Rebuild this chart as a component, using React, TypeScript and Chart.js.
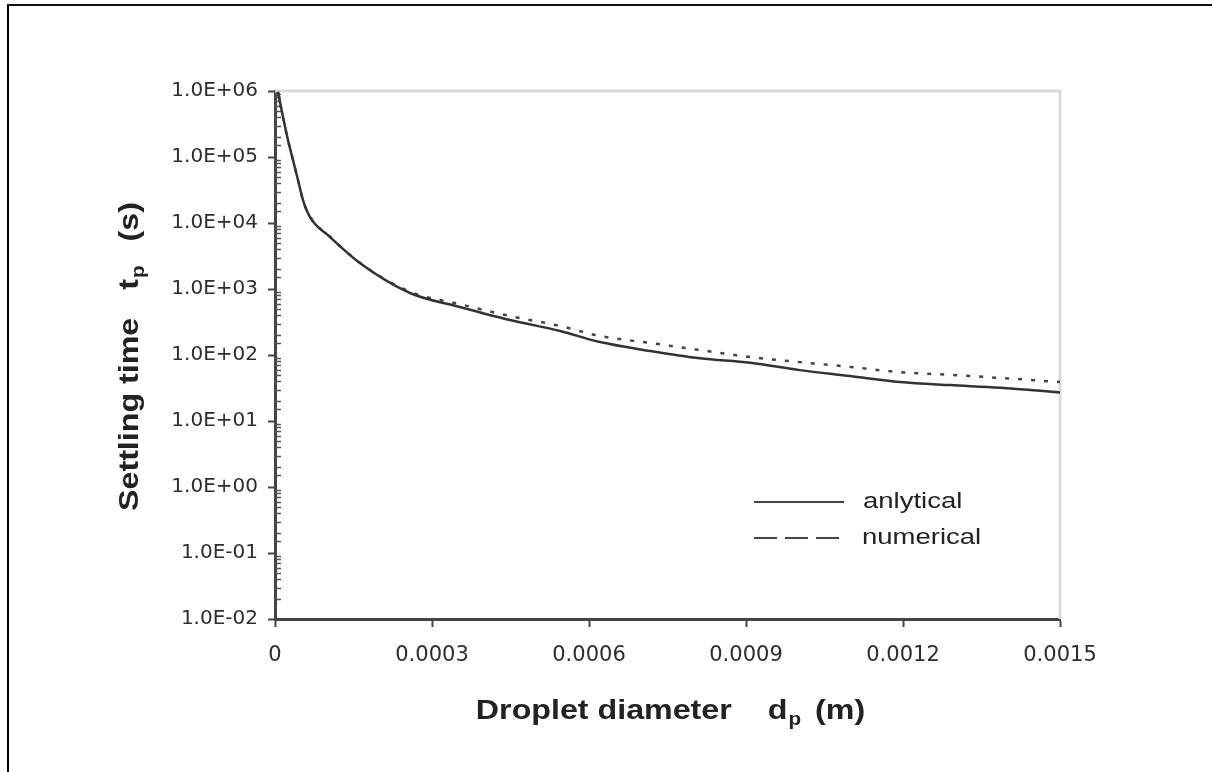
import React, { useEffect, useRef } from 'react';
import { Chart, registerables } from 'chart.js';

Chart.register(...registerables);

// ---------- data ----------
const seriesNames = ['anlytical', 'numerical'];

const analyticalX = [
  5.7e-6, 1.53e-5, 2.48e-5, 3.44e-5, 4.39e-5, 5.35e-5, 6.69e-5, 1.05e-4, 1.62e-4,
  2.58e-4, 3.53e-4, 4.49e-4, 5.45e-4, 6.21e-4, 7.17e-4, 8.12e-4, 9.08e-4, 1.003e-3,
  1.099e-3, 1.194e-3, 1.29e-3, 1.385e-3, 1.5e-3,
];
const analyticalY = [
  9.7e5, 4.04e5, 1.81e5, 9.0e4, 4.49e4, 2.23e4, 1.23e4, 6140, 2480,
  870, 534, 339, 231, 157, 115, 89, 76, 59,
  48, 39, 35, 32, 27,
];

const numericalX = [
  5.7e-6, 1.53e-5, 2.48e-5, 3.44e-5, 4.39e-5, 5.35e-5, 6.69e-5, 1.05e-4, 1.62e-4,
  2.58e-4, 3.53e-4, 4.49e-4, 5.45e-4, 6.21e-4, 7.17e-4, 8.12e-4, 9.08e-4, 1.003e-3,
  1.099e-3, 1.194e-3, 1.29e-3, 1.385e-3, 1.5e-3,
];
const numericalY = [
  9.7e5, 4.0e5, 1.8e5, 9.0e4, 4.5e4, 2.2e4, 1.25e4, 6200, 2500,
  910, 590, 390, 275, 194, 152, 119, 93, 78,
  66, 55, 50, 45, 39,
];

const xTickValues = [0, 0.0003, 0.0006, 0.0009, 0.0012, 0.0015];
const xTickLabels = ['0', '0.0003', '0.0006', '0.0009', '0.0012', '0.0015'];
const yMin = 0.01;
const yMax = 1e6;

const xTitleParts = ['Droplet diameter', 'd', 'p', '(m)'];
const yTitleParts = ['Settling time', 't', 'p', '(s)'];

// ---------- helpers ----------
const TITLE_FONT = 'bold 28px "Liberation Sans", Arial, sans-serif';
const SUB_FONT = 'bold 18px "Liberation Sans", Arial, sans-serif';
const TITLE_SX = 1.15;

function isPow10(v: number) {
  if (v <= 0) return false;
  const e = Math.round(Math.log10(v));
  return Math.abs(v - Math.pow(10, e)) / Math.pow(10, e) < 1e-6;
}

function drawScaledText(ctx: CanvasRenderingContext2D, text: string, font: string, x: number, y: number, sx: number) {
  ctx.save();
  ctx.font = font;
  ctx.translate(x, y);
  ctx.scale(sx, 1);
  ctx.fillText(text, 0, 0);
  ctx.restore();
}

function drawTitle(ctx: CanvasRenderingContext2D, parts: string[], gapA: number, gapB: number) {
  ctx.font = TITLE_FONT;
  const w0 = ctx.measureText(parts[0]).width * TITLE_SX;
  const w1 = ctx.measureText(parts[1]).width * TITLE_SX;
  const w3 = ctx.measureText(parts[3]).width * TITLE_SX;
  ctx.font = SUB_FONT;
  const w2 = ctx.measureText(parts[2]).width * TITLE_SX;
  const total = w0 + gapA + w1 + w2 + gapB + w3;
  let x = -total / 2;
  ctx.textAlign = 'left';
  ctx.textBaseline = 'alphabetic';
  drawScaledText(ctx, parts[0], TITLE_FONT, x, 0, TITLE_SX);
  x += w0 + gapA;
  drawScaledText(ctx, parts[1], TITLE_FONT, x, 0, TITLE_SX);
  x += w1 + 1;
  drawScaledText(ctx, parts[2], SUB_FONT, x, 6, TITLE_SX);
  x += w2 + gapB;
  drawScaledText(ctx, parts[3], TITLE_FONT, x, 0, TITLE_SX);
}

const framePlugin = {
  id: 'frameDecor',
  beforeDatasetsDraw(chart: any) {
    const { ctx, chartArea } = chart;
    const { left, right, top, bottom } = chartArea;
    ctx.save();
    ctx.strokeStyle = '#d9d9d9';
    ctx.lineWidth = 3;
    ctx.beginPath();
    ctx.moveTo(left, top);
    ctx.lineTo(right, top);
    ctx.lineTo(right, bottom);
    ctx.stroke();
    // minor ticks of log axis, drawn inside
    const yScale = chart.scales.y;
    ctx.strokeStyle = '#555';
    ctx.lineWidth = 1.5;
    ctx.beginPath();
    yScale.ticks.forEach((t: any) => {
      if (isPow10(t.value)) return;
      const py = Math.round(yScale.getPixelForValue(t.value)) + 0.5;
      ctx.moveTo(left, py);
      ctx.lineTo(left + 6, py);
    });
    ctx.stroke();
    ctx.restore();
  },
  afterDraw(chart: any) {
    const { ctx } = chart;
    ctx.save();
    ctx.fillStyle = '#222';
    // x title
    ctx.save();
    ctx.translate(670, 719);
    drawTitle(ctx, xTitleParts, 36, 14);
    ctx.restore();
    // y title
    ctx.save();
    ctx.translate(138, 357);
    ctx.rotate(-Math.PI / 2);
    drawTitle(ctx, yTitleParts, 28, 24);
    ctx.restore();

    // legend
    const ds = chart.data.datasets;
    ctx.strokeStyle = '#444';
    ctx.lineWidth = 2;
    ctx.beginPath();
    ctx.moveTo(754, 502);
    ctx.lineTo(844, 502);
    ctx.stroke();
    ctx.setLineDash([23, 8]);
    ctx.beginPath();
    ctx.moveTo(754, 538);
    ctx.lineTo(844, 538);
    ctx.stroke();
    ctx.setLineDash([]);
    ctx.fillStyle = '#222';
    ctx.textAlign = 'left';
    ctx.textBaseline = 'alphabetic';
    const LF = '22px "Liberation Sans", Arial, sans-serif';
    drawScaledText(ctx, ds[0].label, LF, 863, 508, 1.25);
    drawScaledText(ctx, ds[1].label, LF, 862, 544, 1.25);
    ctx.restore();
  },
};

export default function App() {
  const ref = useRef<HTMLCanvasElement | null>(null);

  useEffect(() => {
    if (!ref.current) return;
    const chart = new Chart(ref.current, {
      type: 'line',
      data: {
        datasets: [
          {
            label: seriesNames[0],
            data: analyticalX.map((x, i) => ({ x, y: analyticalY[i] })),
            borderColor: '#333',
            borderWidth: 2.5,
            pointRadius: 0,
            cubicInterpolationMode: 'monotone',
            fill: false,
            order: 0,
          },
          {
            label: seriesNames[1],
            data: numericalX.map((x, i) => ({ x, y: numericalY[i] })),
            borderColor: '#444',
            borderWidth: 2.5,
            borderDash: [4, 9],
            pointRadius: 0,
            cubicInterpolationMode: 'monotone',
            fill: false,
            order: 1,
          },
        ],
      },
      options: {
        responsive: false,
        animation: false,
        layout: { padding: { left: 0, top: 91, right: 152, bottom: 0 } },
        plugins: {
          legend: { display: false },
          tooltip: { enabled: false },
          title: { display: false },
        },
        scales: {
          x: {
            type: 'linear',
            min: 0,
            max: 0.0015,
            afterFit: (s: any) => { s.height = 153; },
            afterBuildTicks: (s: any) => {
              s.ticks = xTickValues.map((v) => ({ value: v }));
            },
            ticks: {
              autoSkip: false,
              maxRotation: 0,
              padding: 16,
              color: '#2e2e2e',
              font: { family: '"DejaVu Sans", sans-serif', size: 21 },
              callback: (v: any) => {
                const i = xTickValues.findIndex((t) => Math.abs(t - v) < 1e-9);
                return i >= 0 ? xTickLabels[i] : '';
              },
            },
            grid: {
              drawOnChartArea: false,
              drawTicks: true,
              tickLength: 8,
              tickWidth: 2,
              tickColor: '#444',
            },
            border: { display: true, color: '#444', width: 3 },
          },
          y: {
            type: 'logarithmic',
            min: yMin,
            max: yMax,
            afterFit: (s: any) => { s.width = 275; },
            ticks: {
              autoSkip: false,
              padding: 10,
              color: '#2e2e2e',
              font: { family: '"DejaVu Sans", sans-serif', size: 20 },
              callback: (v: any) => {
                const n = Number(v);
                if (!isPow10(n)) return '';
                const e = Math.round(Math.log10(n));
                return '1.0E' + (e < 0 ? '-' : '+') + String(Math.abs(e)).padStart(2, '0');
              },
            },
            grid: {
              drawOnChartArea: false,
              drawTicks: true,
              tickLength: 7,
              tickWidth: 2,
              tickColor: (c: any) => (c.tick && isPow10(c.tick.value) ? '#444' : 'rgba(0,0,0,0)'),
            },
            border: { display: true, color: '#444', width: 3 },
          },
        },
      },
      plugins: [framePlugin],
    } as any);
    return () => chart.destroy();
  }, []);

  return (
    <div style={{ position: 'absolute', left: 0, top: 0, width: 1212, height: 772, background: '#fff', overflow: 'hidden' }}>
      <canvas ref={ref} width={1212} height={772} style={{ display: 'block', position: 'absolute', left: 0, top: 0 }} />
      <div style={{ position: 'absolute', left: 7, top: 4, width: 2, height: 800, background: '#000' }} />
      <div style={{ position: 'absolute', left: 7, top: 4, width: 1220, height: 2, background: '#111' }} />
    </div>
  );
}
